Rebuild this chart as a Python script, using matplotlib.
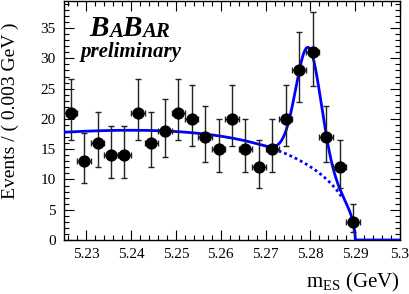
import numpy as np
import matplotlib
matplotlib.use("Agg")
import matplotlib.pyplot as plt
from matplotlib.ticker import MultipleLocator, FuncFormatter

# mES bin centres (0.003 GeV bins) and event counts
mes = [5.2265, 5.2295, 5.2325, 5.2355, 5.2385, 5.2415, 5.2445, 5.2475,
       5.2505, 5.2535, 5.2565, 5.2595, 5.2625, 5.2655, 5.2685, 5.2715,
       5.2745, 5.2775, 5.2805, 5.2835, 5.2865, 5.2895]
counts = [21, 13, 16, 14, 14, 21, 16, 18, 21, 20, 17, 15, 20, 15, 12, 15,
          20, 28, 31, 17, 12, 3]
err_lo = [4.55, 3.57, 3.97, 3.71, 3.71, 4.55, 3.97, 4.21, 4.55, 4.44, 4.09,
          3.84, 4.44, 3.84, 3.43, 3.84, 4.44, 5.27, 5.55, 4.09, 3.43, 1.66]
err_hi = [5.66, 4.71, 5.09, 4.84, 4.84, 5.66, 5.09, 5.33, 5.66, 5.56, 5.21,
          4.97, 5.56, 4.97, 4.57, 4.97, 5.56, 6.36, 6.63, 5.21, 4.57, 2.94]
half_bin = 0.0015

# fit parameters: ARGUS background + gaussian signal
argus_m0 = 5.29
argus_c = -26.0
bkg_at_lo = 17.8        # background height at 5.225
sig_mean = 5.2796
sig_sigma = 0.0028
sig_peak = 19.5
dotted_from, dotted_to = 5.2717, 5.2872

xlo, xhi = 5.225, 5.3


def argus(m):
    u = np.clip(1 - (m / argus_m0) ** 2, 0, None)
    return m * np.sqrt(u) * np.exp(argus_c * u)


def bkg(m):
    return bkg_at_lo * argus(m) / argus(np.array(xlo))


def total(m):
    t = bkg(m) + sig_peak * np.exp(-0.5 * ((m - sig_mean) / sig_sigma) ** 2)
    return np.where(m < argus_m0, t, 0.0)


plt.rcParams['font.family'] = ['Liberation Serif', 'DejaVu Serif']
plt.rcParams['mathtext.fontset'] = 'custom'
plt.rcParams['mathtext.rm'] = 'Liberation Serif'

fig = plt.figure(figsize=(4.09, 2.94), dpi=100)
ax = fig.add_axes([0.1565, 0.1837, 0.978 - 0.1565, 0.997 - 0.1837])

blue = (0, 0, 1)
m = np.linspace(xlo, xhi, 1500)
ax.plot(m, total(m), color=blue, lw=2.0, zorder=3)
md = np.linspace(dotted_from, dotted_to, 200)
ax.plot(md, bkg(md), color=blue, lw=2.0, ls=(0, (1.0, 1.1)), zorder=3)

ax.errorbar(mes, counts, yerr=[err_lo, err_hi], xerr=half_bin, fmt='o',
            color='black', ecolor='#222222', ms=7.8, elinewidth=1.0,
            capsize=2.0, capthick=1.0, zorder=4)

ax.set_xlim(xlo, xhi)
ax.set_ylim(0, 39.5)
ax.xaxis.set_major_locator(MultipleLocator(0.01))
ax.xaxis.set_minor_locator(MultipleLocator(0.002))
ax.xaxis.set_major_formatter(FuncFormatter(lambda v, p: '%g' % round(v, 3)))
ax.yaxis.set_major_locator(MultipleLocator(5))
ax.yaxis.set_minor_locator(MultipleLocator(1))
ax.tick_params(which='both', direction='in', top=True, right=True,
               labelsize=11, width=0.8)
ax.tick_params(which='major', length=7, pad=6)
ax.tick_params(which='minor', length=3.5)
for s in ax.spines.values():
    s.set_linewidth(1.0)

ax.set_ylabel('Events / ( 0.003 GeV )', fontsize=14)
ax.yaxis.set_label_coords(-0.135, 0.54)
ax.set_xlabel(r'm$_{\mathrm{ES}}$ (GeV)', fontsize=15, labelpad=2)
ax.xaxis.set_label_coords(1.0, -0.13)
ax.xaxis.label.set_horizontalalignment('right')

# BaBar logo
logo = dict(fontweight='bold', style='italic', color='black')
t = ax.text(0.075, 0.855, 'B', transform=ax.transAxes, fontsize=21, **logo)
for part, size in [('A', 15), ('B', 21), ('AR', 15)]:
    t = ax.annotate(part, xy=(1, 0), xycoords=t, fontsize=size,
                    va='bottom', **logo)
ax.text(0.048, 0.765, 'preliminary', transform=ax.transAxes, fontsize=15,
        **logo)

fig.savefig('out.png', dpi=100)
